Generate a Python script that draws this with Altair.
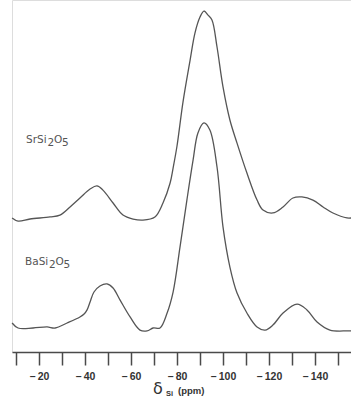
import altair as alt
import pandas as pd

# 29Si MAS NMR spectra of two alkaline-earth disilicates (chemical shift in ppm)
ppm_sr = [-8.3, -10.9, -16.1, -24.8, -29.1, -33.5, -37.8, -42.2, -45.2, -47.8,
          -52.2, -56.5, -60.9, -65.2, -70.4, -73.9, -77.0, -78.3, -80.0, -82.6,
          -85.7, -87.8, -90.0, -91.7, -93.5, -95.2, -97.4, -100.0, -103.0, -106.1,
          -110.4, -114.8, -117.4, -121.7, -126.1, -130.4, -134.3, -139.1, -143.5,
          -147.8, -153.9, -155.7]
int_sr = [0.5, -1.0, 0.0, 1.0, 1.9, 5.8, 10.1, 14.4, 15.9, 13.9,
          7.7, 1.9, 0.0, -0.5, 1.0, 7.7, 17.3, 24.5, 35.1, 56.2,
          76.4, 89.4, 97.1, 100.0, 98.0, 95.7, 82.7, 63.5, 47.6, 36.5,
          22.1, 9.1, 4.3, 2.9, 5.8, 10.1, 10.6, 9.1, 5.8,
          2.9, 0.5, 0.5]

ppm_ba = [-8.3, -10.9, -17.4, -23.5, -27.0, -32.2, -37.8, -39.6, -40.9, -42.2,
          -43.9, -46.5, -49.6, -52.2, -55.2, -59.6, -63.9, -67.0, -69.6, -72.6,
          -75.7, -78.3, -81.3, -84.3, -87.0, -89.1, -91.7, -94.3, -97.4, -100.0,
          -103.0, -106.1, -110.4, -114.8, -118.3, -121.7, -126.1, -132.2, -136.5,
          -140.9, -146.5, -153.9, -155.7]
int_ba = [2.4, 0.0, 0.0, 0.5, 0.0, 2.4, 5.3, 6.7, 8.7, 12.5,
          17.3, 20.2, 21.2, 19.2, 13.5, 5.3, -1.0, -1.4, 0.0, 0.0,
          7.2, 17.3, 38.9, 61.5, 80.8, 93.8, 98.6, 95.2, 77.4, 48.6,
          29.3, 16.8, 7.2, 0.5, -1.0, 1.4, 7.2, 11.5, 8.7,
          2.9, -1.0, -1.4, -1.4]

samples = ["SrSi2O5", "BaSi2O5"]
tick_values = [-10, -20, -30, -40, -50, -60, -70, -80, -90, -100, -110, -120, -130, -140, -150]

df = pd.concat([
    pd.DataFrame({"ppm": ppm_sr, "intensity": int_sr, "sample": samples[0]}),
    pd.DataFrame({"ppm": ppm_ba, "intensity": int_ba, "sample": samples[1]}),
])

INK = "#4a4a4a"
X_DOMAIN = [-8.26, -155.65]
Y_DOMAIN = [-11.54, 157.7]

x_enc = alt.X(
    "ppm:Q",
    scale=alt.Scale(domain=X_DOMAIN, nice=False, zero=False),
    axis=alt.Axis(
        values=tick_values,
        labelExpr="datum.value % 20 == 0 ? '\u2013\u2009' + abs(datum.value) : ''",
        title=None,
        grid=False,
        domainColor=INK, domainWidth=1.6,
        tickColor=INK, tickWidth=1.5, tickSize=13,
        labelFont="Liberation Sans", labelFontSize=10.5, labelFontWeight="bold",
        labelColor="#333333", labelPadding=6, labelFlush=False,
    ),
)

# spectra are stacked: the Sr trace sits above the Ba trace
spectra = (
    alt.Chart(df)
    .transform_calculate(
        shifted="datum.intensity + (datum.sample == 'SrSi2O5' ? 52.4 : 0)"
    )
    .mark_line(interpolate="catmull-rom", color="#555555", strokeWidth=1.3)
    .encode(
        x=x_enc,
        y=alt.Y("shifted:Q", scale=alt.Scale(domain=Y_DOMAIN, nice=False, zero=False), axis=None),
        detail="sample:N",
    )
)

# compound names, with lowered subscript digits
def formula(parts, x0, y0):
    rows = []
    x = x0
    for text, width, low in parts:
        rows.append({"t": text, "px": x, "py": y0 + (3 if low else 0)})
        x += width
    return rows

name_rows = (
    formula([("SrSi", 21.5, False), ("2", 6.5, True), ("O", 8, False), ("5", 6, True)], 14, 140)
    + formula([("BaSi", 24, False), ("2", 6.5, True), ("O", 8, False), ("5", 6, True)], 13, 262)
)
names = (
    alt.Chart(pd.DataFrame(name_rows))
    .mark_text(align="left", baseline="middle", font="DejaVu Sans", fontSize=10.5, color="#555555")
    .encode(text="t:N", x=alt.X("px:Q", scale=None), y=alt.Y("py:Q", scale=None))
)

delta = alt.Chart(pd.DataFrame({"t": ["\u03b4"]})).mark_text(
    align="left", baseline="alphabetic", font="DejaVu Sans", fontSize=16, color="#333333"
).encode(text="t:N", x=alt.value(141), y=alt.value(394))

sub = alt.Chart(pd.DataFrame({"t": ["Si"]})).mark_text(
    align="left", baseline="alphabetic", font="Liberation Sans", fontSize=7.5, fontWeight="bold", color="#333333"
).encode(text="t:N", x=alt.value(154), y=alt.value(396))

unit = alt.Chart(pd.DataFrame({"t": ["(ppm)"]})).mark_text(
    align="left", baseline="alphabetic", font="Liberation Sans", fontSize=9.5, fontWeight="bold", color="#333333"
).encode(text="t:N", x=alt.value(166), y=alt.value(394))

chart = (
    alt.layer(spectra, names, delta, sub, unit)
    .properties(
        width=339,
        height=352,
        autosize="none",
        padding={"left": 12, "top": 0, "right": 0, "bottom": 47},
    )
    .configure_view(stroke=None)
    .configure(background="white")
)

chart.save("out.html", embed_options={"renderer": "svg", "actions": False})
